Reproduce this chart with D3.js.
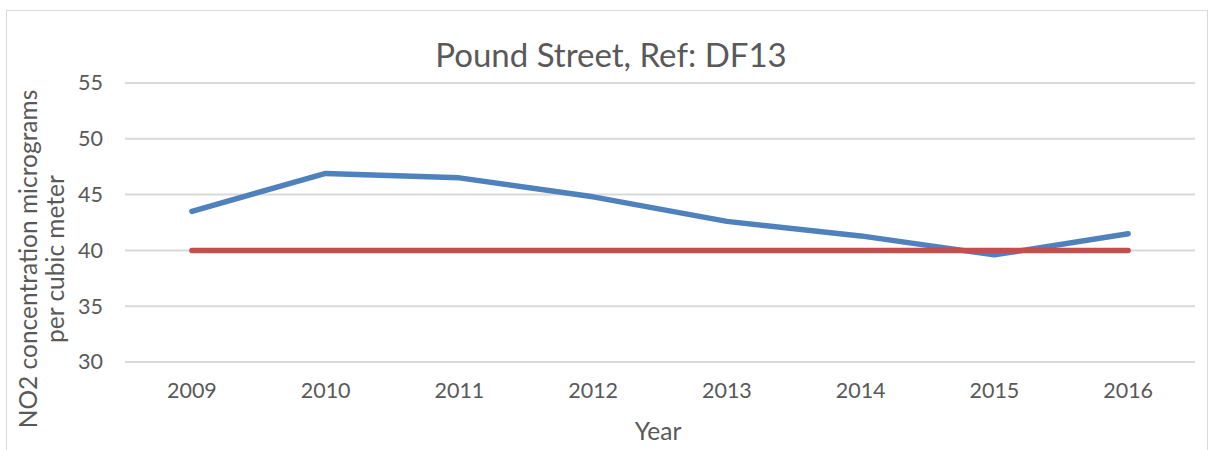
<!DOCTYPE html>
<html>
<head>
<meta charset="utf-8">
<script src="https://cdn.jsdelivr.net/npm/d3@7"></script>
<style>
body { margin: 0; background: #fff; }
text { font-family: Lato, "Open Sans", sans-serif; fill: #595959; }
</style>
</head>
<body>
<div id="chart"></div>
<script>
"use strict";

var years = ["2009", "2010", "2011", "2012", "2013", "2014", "2015", "2016"];
var no2Values = [43.5, 46.9, 46.5, 44.8, 42.6, 41.3, 39.6, 41.5];
var limitValues = [40, 40, 40, 40, 40, 40, 40, 40];
var yTicks = [30, 35, 40, 45, 50, 55];

var width = 1213, height = 450;
var margin = {top: 83, right: 18, bottom: 88, left: 125};

var svg = d3.select("#chart").append("svg")
    .attr("width", width)
    .attr("height", height);

svg.append("rect")
    .attr("x", 6.5).attr("y", 10.5)
    .attr("width", 1201).attr("height", 450)
    .attr("fill", "#fff")
    .attr("stroke", "#d9d9d9");

var x = d3.scaleBand()
    .domain(years)
    .range([margin.left, width - margin.right]);

var y = d3.scaleLinear()
    .domain([30, 55])
    .range([height - margin.bottom, margin.top]);

// gridlines
svg.append("g")
    .selectAll("line")
    .data(yTicks)
    .enter().append("line")
    .attr("x1", margin.left)
    .attr("x2", width - margin.right)
    .attr("y1", function (d) { return y(d); })
    .attr("y2", function (d) { return y(d); })
    .attr("stroke", "#d9d9d9")
    .attr("stroke-width", 2);

var yAxis = svg.append("g")
    .attr("transform", "translate(" + (margin.left - 22) + ",0)")
    .call(d3.axisLeft(y).tickValues(yTicks).tickSize(0).tickPadding(0));
yAxis.select(".domain").remove();
yAxis.selectAll("text")
    .style("font-size", "21.5px")
    .attr("fill", "#595959");

var xAxis = svg.append("g")
    .attr("transform", "translate(0," + (height - margin.bottom) + ")")
    .call(d3.axisBottom(x).tickSize(0).tickPadding(21));
xAxis.select(".domain").remove();
xAxis.selectAll("text")
    .style("font-size", "21.5px")
    .attr("fill", "#595959");

var line = d3.line()
    .x(function (d, i) { return x(years[i]) + x.bandwidth() / 2; })
    .y(function (d) { return y(d); });

svg.append("path")
    .datum(no2Values)
    .attr("d", line)
    .attr("fill", "none")
    .attr("stroke", "#4f81bd")
    .attr("stroke-width", 5.5)
    .attr("stroke-linecap", "round")
    .attr("stroke-linejoin", "round");

svg.append("path")
    .datum(limitValues)
    .attr("d", line)
    .attr("fill", "none")
    .attr("stroke", "#c0504d")
    .attr("stroke-width", 5.5)
    .attr("stroke-linecap", "round");

svg.append("text")
    .attr("x", 611)
    .attr("y", 67)
    .attr("text-anchor", "middle")
    .style("font-size", "33px")
    .text("Pound Street, Ref: DF13");

svg.append("text")
    .attr("x", 658)
    .attr("y", 440)
    .attr("text-anchor", "middle")
    .style("font-size", "24.5px")
    .text("Year");

var yTitle = svg.append("text")
    .attr("transform", "translate(37,259) rotate(-90)")
    .attr("text-anchor", "middle")
    .style("font-size", "24.5px");
yTitle.append("tspan").attr("x", 0).attr("y", 0).text("NO2 concentration micrograms");
yTitle.append("tspan").attr("x", 0).attr("y", 27).text("per cubic meter");
</script>
</body>
</html>
